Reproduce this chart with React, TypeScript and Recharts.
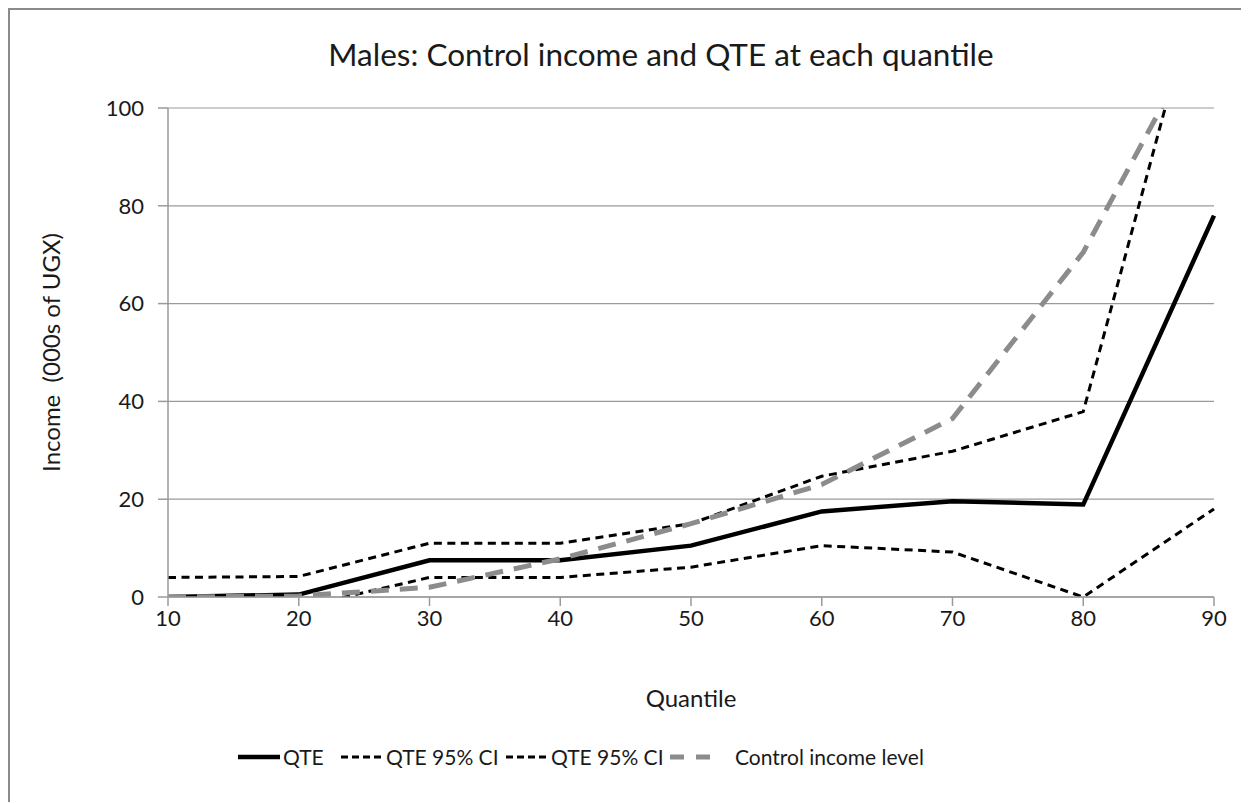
import { CartesianGrid, Line, LineChart, XAxis, YAxis } from "recharts";

const quantiles = [10, 20, 30, 40, 50, 60, 70, 80, 90];
const qte = [0, 0.5, 7.5, 7.5, 10.5, 17.5, 19.6, 18.9, 78];
const ciUpper = [4, 4.2, 11, 11, 15, 24.7, 29.8, 37.9, 137];
const ciLower = [-3.5, -2.2, 4, 4, 6.1, 10.5, 9.2, 0, 18];
const controlIncome = [0, 0.2, 2, 7.8, 15, 23, 36.5, 70.5, 120];

const xTicks = [10, 20, 30, 40, 50, 60, 70, 80, 90];
const yTicks = [0, 20, 40, 60, 80, 100];

const chartData = quantiles.map((q, i) => ({
  quantile: q,
  qte: qte[i],
  ciUpper: ciUpper[i],
  ciLower: ciLower[i],
  control: controlIncome[i],
}));

const FONT = "Lato, 'Open Sans', sans-serif";
const AXIS = "#9a9a9a";
const TEXT = "#1a1a1a";

function YTitle(props: any) {
  const { viewBox } = props;
  const cy = viewBox.y + viewBox.height / 2;
  return (
    <text
      x={40}
      y={cy}
      transform={`rotate(-90, 40, ${cy})`}
      textAnchor="middle"
      dominantBaseline="central"
      fill={TEXT}
      fontSize={24}
      fontFamily={FONT}
      style={{ whiteSpace: "pre" }}
    >
      {"Income  (000s of UGX)"}
    </text>
  );
}

function XTitle(props: any) {
  const { viewBox } = props;
  return (
    <text
      x={viewBox.x + viewBox.width / 2}
      y={687}
      textAnchor="middle"
      dominantBaseline="central"
      fill={TEXT}
      fontSize={24}
      fontFamily={FONT}
    >
      Quantile
    </text>
  );
}

// legend sample line / label positions, relative to the bordered box
const legendItems = [
  { label: "QTE", stroke: "#000", width: 4.5, dash: undefined as string | undefined, lineX: 228, textX: 273 },
  { label: "QTE 95% CI", stroke: "#000", width: 3, dash: "7 4", lineX: 331, textX: 376 },
  { label: "QTE 95% CI", stroke: "#000", width: 3, dash: "7 4", lineX: 496, textX: 541 },
  { label: "Control income level", stroke: "#8c8c8c", width: 5, dash: "14 12", lineX: 660, textX: 725 },
];

export default function App() {
  return (
    <div
      style={{
        position: "relative",
        width: 1239,
        height: 794,
        boxSizing: "border-box",
        borderTop: "2px solid #8a8a8a",
        borderLeft: "2px solid #8a8a8a",
        background: "#fff",
        fontFamily: FONT,
        overflow: "hidden",
      }}
    >
      <div
        style={{
          position: "absolute",
          left: 0,
          width: 1302,
          top: 25,
          textAlign: "center",
          fontSize: 31.5,
          color: TEXT,
        }}
      >
        Males: Control income and QTE at each quantile
      </div>
      <LineChart
        width={1237}
        height={792}
        data={chartData}
        margin={{ top: 98, right: 33, left: 0, bottom: 145 }}
      >
        <CartesianGrid vertical={false} stroke={AXIS} strokeWidth={1.2} />
        <XAxis
          type="number"
          dataKey="quantile"
          domain={[10, 90]}
          ticks={xTicks}
          interval={0}
          height={60}
          stroke={AXIS}
          strokeWidth={1.5}
          tickSize={9}
          tickMargin={4}
          tick={{ fill: TEXT, fontSize: 22, fontFamily: FONT }}
          label={<XTitle />}
        />
        <YAxis
          type="number"
          domain={[0, 100]}
          ticks={yTicks}
          allowDataOverflow
          width={158}
          stroke={AXIS}
          strokeWidth={1.5}
          tickSize={10}
          tickMargin={14}
          tick={{ fill: TEXT, fontSize: 22, fontFamily: FONT }}
          label={<YTitle />}
        />
        <Line
          dataKey="ciUpper"
          stroke="#000"
          strokeWidth={3}
          strokeDasharray="8 5.5"
          dot={false}
          isAnimationActive={false}
        />
        <Line
          dataKey="ciLower"
          stroke="#000"
          strokeWidth={3}
          strokeDasharray="8 5.5"
          dot={false}
          isAnimationActive={false}
        />
        <Line
          dataKey="qte"
          stroke="#000"
          strokeWidth={4.5}
          dot={false}
          isAnimationActive={false}
        />
        <Line
          dataKey="control"
          stroke="#8c8c8c"
          strokeWidth={5}
          strokeDasharray="18 11"
          dot={false}
          isAnimationActive={false}
        />
      </LineChart>
      {legendItems.map((item, i) => (
        <div key={i}>
          <svg
            width={42}
            height={10}
            style={{ position: "absolute", left: item.lineX, top: 742 }}
          >
            <line
              x1={0}
              y1={5}
              x2={42}
              y2={5}
              stroke={item.stroke}
              strokeWidth={item.width}
              strokeDasharray={item.dash}
            />
          </svg>
          <span
            style={{
              position: "absolute",
              left: item.textX,
              top: 734,
              fontSize: 21,
              lineHeight: "26px",
              color: TEXT,
              whiteSpace: "nowrap",
            }}
          >
            {item.label}
          </span>
        </div>
      ))}
    </div>
  );
}
